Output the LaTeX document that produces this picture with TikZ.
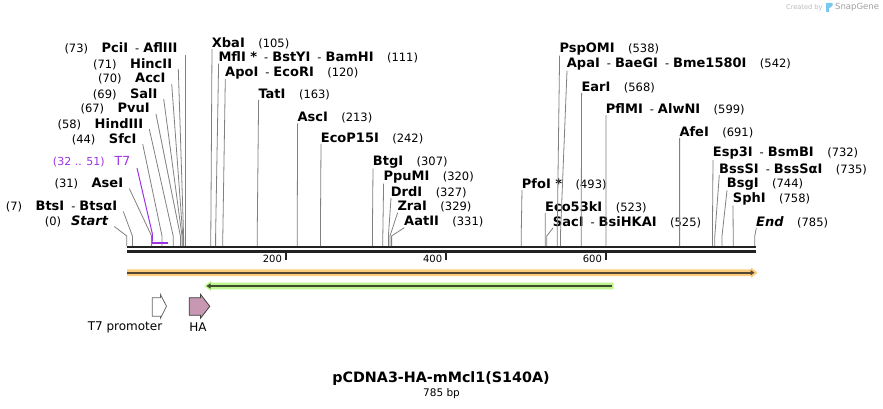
\documentclass[tikz,border=0pt]{standalone}
\usepackage{fontspec}
\setmainfont{DejaVu Sans}
\usetikzlibrary{arrows.meta,calc}
\definecolor{siteline}{RGB}{128,128,128}
\definecolor{seqc}{RGB}{34,34,34}
\definecolor{t7purple}{RGB}{155,50,230}
\definecolor{orfill}{RGB}{252,204,122}
\definecolor{orline}{RGB}{85,72,50}
\definecolor{grfill}{RGB}{190,244,140}
\definecolor{grline}{RGB}{60,78,45}
\definecolor{hapink}{RGB}{200,152,178}
\definecolor{credgray}{RGB}{185,185,185}
\definecolor{logoblue}{RGB}{120,200,240}
\newcommand{\enz}[1]{{\fontsize{13}{15}\selectfont\bfseries #1}}
\newcommand{\bpnum}[1]{{\fontsize{11.5}{13}\selectfont (#1)}}
\newcommand{\dsh}{\hspace{7pt}{\fontsize{11.5}{13}\selectfont -}\hspace{4pt}}
\newcommand{\gap}{\hspace{13.5pt}}
% right-side cut line: from label anchor to site
\newcommand{\rcut}[2]{\draw[sl] ($(#1.south west)+(0.3,0)$) -- ({126.8+0.8*#2},236) -- ({126.8+0.8*#2},246.2);}
\newcommand{\lcut}[2]{\draw[sl] ($(#1.east)+(6,5)$) -- ({126.8+0.8*#2},236) -- ({126.8+0.8*#2},246.2);}
\begin{document}
\begin{tikzpicture}[x=1pt,y=-1pt,
  sl/.style={draw=siteline, line width=0.8pt},
  rl/.style={anchor=west, inner sep=0pt},
  ll/.style={anchor=east, inner sep=0pt}]
\useasboundingbox (0,0) rectangle (883,409);

% ---------- features ----------
\fill[orfill] (127,269.4) -- (751,269.4) -- (751,267.5) -- (757.5,272.7) -- (751,277.9) -- (751,276) -- (127,276) -- cycle;
\draw[orline, line width=1.8pt, -{Triangle[length=4pt,width=5pt]}] (127,272.7) -- (754.5,272.7);
\fill[grfill] (613.5,282.7) -- (211,282.7) -- (211,280.8) -- (204.3,286) -- (211,291.2) -- (211,289.3) -- (613.5,289.3) -- cycle;
\draw[grline, line width=1.8pt, -{Triangle[length=4pt,width=5pt]}] (611.5,286) -- (206.5,286);

\draw[draw=gray!80!black, fill=white, line width=0.8pt] (152.3,297.7) -- (160.5,297.7) -- (160.5,294.5) -- (166.5,306.3) -- (160.5,318.1) -- (160.5,316.2) -- (152.3,316.2) -- cycle;
\draw[draw=black!75, fill=hapink, line width=0.8pt] (189.2,297.7) -- (200.5,297.7) -- (200.5,294.3) -- (209.8,306.3) -- (200.5,318.3) -- (200.5,315.3) -- (189.2,315.3) -- cycle;
\node[font=\fontsize{12}{14}\selectfont, inner sep=0pt] (t7prom) at (125,327.5) {T7 promoter};
\node[font=\fontsize{12}{14}\selectfont, inner sep=0pt] (ha) at (198,327.5) {HA};

% ---------- sequence ----------
\draw[seqc, line width=2.3pt] (126.7,247.3) -- (755.7,247.3);
\draw[seqc, line width=2.3pt] (126.7,251.4) -- (755.7,251.4);
\foreach \tx/\tl in {285.7/200, 446/400, 605.7/600}{
  \draw[seqc, line width=1.6pt] (\tx,252) -- (\tx,259.6);
  \node[anchor=east, inner sep=0pt, font=\fontsize{10}{12}\selectfont] (tick\tl) at (\tx-3.6,258.7) {\tl};
}

% ---------- left column ----------
\node[ll] (pci) at (177.7,48) {\bpnum{73}\gap\enz{PciI}\dsh\enz{AflIII}};
\node[ll] (hinc) at (172.3,64) {\bpnum{71}\gap\enz{HincII}};
\node[ll] (acc) at (165.7,79) {\bpnum{70}\gap\enz{AccI}};
\node[ll] (sal) at (157.7,94) {\bpnum{69}\gap\enz{SalI}};
\node[ll] (pvu) at (150,109) {\bpnum{67}\gap\enz{PvuI}};
\node[ll] (hind) at (143.3,124) {\bpnum{58}\gap\enz{HindIII}};
\node[ll] (sfc) at (136.7,139) {\bpnum{44}\gap\enz{SfcI}};
\node[ll, text=t7purple] (t7) at (130.5,162) {{\fontsize{11}{13}\selectfont (32 .. 51)}\hspace{10pt}{\fontsize{12.5}{14}\selectfont T7}};
\node[ll] (ase) at (123.3,183.5) {\bpnum{31}\gap\enz{AseI}};
\node[ll] (bts) at (117.3,206.5) {\bpnum{7}\gap\enz{BtsI}\dsh\enz{BtsαI}};
\node[ll] (start) at (108.3,221.5) {\bpnum{0}\hspace{10pt}\enz{\itshape Start}};

\draw[sl] ({126.8+0.8*73},55) -- ({126.8+0.8*73},246.2);
\lcut{hinc}{71}
\lcut{acc}{70}
\lcut{sal}{69}
\lcut{pvu}{67}
\lcut{hind}{58}
\lcut{sfc}{44}
\lcut{ase}{31}
\lcut{bts}{7}
\lcut{start}{0}
\draw[t7purple, line width=1pt] ($(t7.east)+(6.5,6)$) -- ({126.8+0.8*32},234) -- ({126.8+0.8*32},241.5);
\draw[t7purple, line width=2pt] ({126.8+0.8*32},242.5) -- ({126.8+0.8*51},242.5);

% ---------- right labels ----------
\node[rl] (xba) at (211.7,43.3) {\enz{XbaI}\gap\bpnum{105}};
\node[rl] (mfl) at (218.3,57.7) {\enz{MflI *}\dsh\enz{BstYI}\dsh\enz{BamHI}\gap\bpnum{111}};
\node[rl] (apo) at (225,72.7) {\enz{ApoI}\dsh\enz{EcoRI}\gap\bpnum{120}};
\node[rl] (tat) at (258.3,94.3) {\enz{TatI}\gap\bpnum{163}};
\node[rl] (asc) at (297.3,117.7) {\enz{AscI}\gap\bpnum{213}};
\node[rl] (ecop) at (320.7,138.3) {\enz{EcoP15I}\gap\bpnum{242}};
\node[rl] (btg) at (372.7,162.3) {\enz{BtgI}\gap\bpnum{307}};
\node[rl] (ppu) at (383.3,177.3) {\enz{PpuMI}\gap\bpnum{320}};
\node[rl] (drd) at (390.7,192.3) {\enz{DrdI}\gap\bpnum{327}};
\node[rl] (zra) at (397.3,207) {\enz{ZraI}\gap\bpnum{329}};
\node[rl] (aat) at (404,222) {\enz{AatII}\gap\bpnum{331}};
\node[rl] (pfo) at (521.7,184) {\enz{PfoI *}\gap\bpnum{493}};
\node[rl] (eco53) at (545,207) {\enz{Eco53kI}\gap\bpnum{523}};
\node[rl] (sac) at (552.7,222) {\enz{SacI}\dsh\enz{BsiHKAI}\gap\bpnum{525}};
\node[rl] (pspo) at (559.3,49.3) {\enz{PspOMI}\gap\bpnum{538}};
\node[rl] (apa) at (566.7,64.3) {\enz{ApaI}\dsh\enz{BaeGI}\dsh\enz{Bme1580I}\gap\bpnum{542}};
\node[rl] (ear) at (581.3,87.3) {\enz{EarI}\gap\bpnum{568}};
\node[rl] (pflm) at (605.7,109.3) {\enz{PflMI}\dsh\enz{AlwNI}\gap\bpnum{599}};
\node[rl] (afe) at (679.3,132) {\enz{AfeI}\gap\bpnum{691}};
\node[rl] (esp) at (712.7,153.5) {\enz{Esp3I}\dsh\enz{BsmBI}\gap\bpnum{732}};
\node[rl] (bsss) at (719,169) {\enz{BssSI}\dsh\enz{BssSαI}\gap\bpnum{735}};
\node[rl] (bsg) at (726.7,184) {\enz{BsgI}\gap\bpnum{744}};
\node[rl] (sph) at (732.7,199) {\enz{SphI}\gap\bpnum{758}};
\node[rl] (endl) at (756,222) {\enz{\itshape End}\gap\bpnum{785}};

\rcut{xba}{105}
\rcut{mfl}{111}
\rcut{apo}{120}
\rcut{tat}{163}
\rcut{asc}{213}
\rcut{ecop}{242}
\rcut{btg}{307}
\rcut{ppu}{320}
\rcut{drd}{327}
\rcut{zra}{329}
\rcut{aat}{331}
\rcut{pfo}{493}
\rcut{eco53}{523}
\rcut{sac}{525}
\rcut{pspo}{538}
\rcut{apa}{542}
\rcut{ear}{568}
\rcut{pflm}{599}
\rcut{afe}{691}
\rcut{esp}{732}
\rcut{bsss}{735}
\rcut{bsg}{744}
\rcut{sph}{758}
\rcut{endl}{785}

% ---------- title ----------
\node[inner sep=0pt, font=\fontsize{14.3}{16}\selectfont\bfseries] (title) at (441,378.5) {pCDNA3-HA-mMcl1(S140A)};
\node[inner sep=0pt, font=\fontsize{10.5}{12}\selectfont] (len) at (441.5,393.3) {785 bp};

% ---------- credit ----------
\node[anchor=west, inner sep=0pt, text=credgray, font=\fontsize{6.6}{8}\selectfont] (cred) at (786,7.3) {Created by};
\fill[logoblue] (826.3,2.8) rectangle (828.6,12.2);
\fill[logoblue] (828.6,2.8) -- (832.2,2.8) .. controls (833.8,4.5) and (832,7.5) .. (828.6,8.2) -- cycle;
\node[anchor=west, inner sep=0pt, text=gray!75, font=\fontsize{8.5}{10}\selectfont] (snap) at (835,7.3) {SnapGene};
\end{tikzpicture}
\end{document}
